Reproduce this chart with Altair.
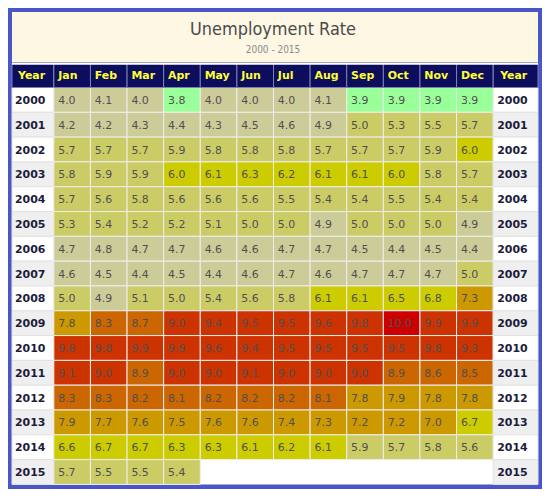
import altair as alt
import pandas as pd

months = ["Jan", "Feb", "Mar", "Apr", "May", "Jun", "Jul", "Aug", "Sep", "Oct", "Nov", "Dec"]
years = [str(y) for y in range(2000, 2016)]

r2000 = [4.0, 4.1, 4.0, 3.8, 4.0, 4.0, 4.0, 4.1, 3.9, 3.9, 3.9, 3.9]
r2001 = [4.2, 4.2, 4.3, 4.4, 4.3, 4.5, 4.6, 4.9, 5.0, 5.3, 5.5, 5.7]
r2002 = [5.7, 5.7, 5.7, 5.9, 5.8, 5.8, 5.8, 5.7, 5.7, 5.7, 5.9, 6.0]
r2003 = [5.8, 5.9, 5.9, 6.0, 6.1, 6.3, 6.2, 6.1, 6.1, 6.0, 5.8, 5.7]
r2004 = [5.7, 5.6, 5.8, 5.6, 5.6, 5.6, 5.5, 5.4, 5.4, 5.5, 5.4, 5.4]
r2005 = [5.3, 5.4, 5.2, 5.2, 5.1, 5.0, 5.0, 4.9, 5.0, 5.0, 5.0, 4.9]
r2006 = [4.7, 4.8, 4.7, 4.7, 4.6, 4.6, 4.7, 4.7, 4.5, 4.4, 4.5, 4.4]
r2007 = [4.6, 4.5, 4.4, 4.5, 4.4, 4.6, 4.7, 4.6, 4.7, 4.7, 4.7, 5.0]
r2008 = [5.0, 4.9, 5.1, 5.0, 5.4, 5.6, 5.8, 6.1, 6.1, 6.5, 6.8, 7.3]
r2009 = [7.8, 8.3, 8.7, 9.0, 9.4, 9.5, 9.5, 9.6, 9.8, 10.0, 9.9, 9.9]
r2010 = [9.8, 9.8, 9.9, 9.9, 9.6, 9.4, 9.5, 9.5, 9.5, 9.5, 9.8, 9.3]
r2011 = [9.1, 9.0, 8.9, 9.0, 9.0, 9.1, 9.0, 9.0, 9.0, 8.9, 8.6, 8.5]
r2012 = [8.3, 8.3, 8.2, 8.1, 8.2, 8.2, 8.2, 8.1, 7.8, 7.9, 7.8, 7.8]
r2013 = [7.9, 7.7, 7.6, 7.5, 7.6, 7.6, 7.4, 7.3, 7.2, 7.2, 7.0, 6.7]
r2014 = [6.6, 6.7, 6.7, 6.3, 6.3, 6.1, 6.2, 6.1, 5.9, 5.7, 5.8, 5.6]
r2015 = [5.7, 5.5, 5.5, 5.4]

rate_rows = [r2000, r2001, r2002, r2003, r2004, r2005, r2006, r2007,
             r2008, r2009, r2010, r2011, r2012, r2013, r2014, r2015]

thresholds = [4.0, 5.0, 6.0, 7.0, 8.0, 9.0, 10.0]
band_colors = ["#99FF99", "#CCCC99", "#CCCC66", "#CCCC00", "#CC9900",
               "#CC6600", "#CC3300", "#CC0000"]

title_text = "Unemployment Rate"
subtitle_text = "2000 - 2015"
header_label = "Year"

# ---- tables built from the arrays ----
cells = pd.DataFrame(
    [{"Row": y, "Month": months[i], "Rate": v}
     for y, vals in zip(years, rate_rows) for i, v in enumerate(vals)]
)
hdr = pd.DataFrame({"Row": ["hdr"] * len(months), "Month": months})
yr = pd.DataFrame({"Row": years, "Label": years,
                   "Shade": ["w" if int(y) % 2 == 0 else "g" for y in years]})
yr_hdr = pd.DataFrame({"Row": ["hdr"], "Label": [header_label]})

rows = ["hdr"] + years
ROW_H = 24.9
TAB_H = ROW_H * len(rows)
MONTH_W = 441
YL_W = 42
YR_W = 45
FULL_W = YL_W + MONTH_W + YR_W

NAVY = "#0D0D5E"
YELLOW = "#FFFF33"
FONT = "DejaVu Sans"
TFONT = "DejaVu Sans Condensed, Roboto, DejaVu Sans"

y_enc = alt.Y("Row:N", scale=alt.Scale(domain=rows, paddingInner=0, paddingOuter=0), axis=None)
x_enc = alt.X("Month:N", scale=alt.Scale(domain=months, paddingInner=0, paddingOuter=0), axis=None)

cell_rect = alt.Chart(cells).mark_rect(stroke="#EEEEEE", strokeWidth=1).encode(
    x=x_enc, y=y_enc,
    color=alt.Color("Rate:Q", scale=alt.Scale(type="threshold", domain=thresholds, range=band_colors), legend=None),
)
cell_text = alt.Chart(cells).mark_text(
    align="left", baseline="middle", dx=-14, dy=1, font=FONT, fontSize=11, color="#505050"
).encode(x=x_enc, y=y_enc, text=alt.Text("Rate:Q", format=".1f"))
hdr_rect = alt.Chart(hdr).mark_rect(color=NAVY, stroke="#7F7FB0", strokeWidth=1).encode(x=x_enc, y=y_enc)
hdr_text = alt.Chart(hdr).mark_text(
    align="left", baseline="middle", dx=-14, dy=1, font=FONT, fontSize=11, fontWeight="bold", color=YELLOW
).encode(x=x_enc, y=y_enc, text="Month:N")

month_panel = alt.layer(cell_rect, cell_text, hdr_rect, hdr_text).properties(
    width=MONTH_W, height=TAB_H, view=alt.ViewBackground(fill="#FFFFFF", stroke=None)
)


def year_panel(w, text_x):
    rect = alt.Chart(yr).mark_rect(stroke="#E2E2E2", strokeWidth=1).encode(
        y=y_enc,
        color=alt.Color("Shade:N", scale=alt.Scale(domain=["w", "g"], range=["#FFFFFF", "#EFEFEF"]), legend=None),
    )
    txt = alt.Chart(yr).mark_text(
        align="left", baseline="middle", dy=1, font=FONT, fontSize=11, fontWeight="bold", color="#1C1C3C"
    ).encode(y=y_enc, x=alt.value(text_x), text="Label:N")
    hrect = alt.Chart(yr_hdr).mark_rect(color=NAVY, stroke="#7F7FB0", strokeWidth=1).encode(y=y_enc)
    htxt = alt.Chart(yr_hdr).mark_text(
        align="left", baseline="middle", dy=1, font=FONT, fontSize=11, fontWeight="bold", color=YELLOW
    ).encode(y=y_enc, x=alt.value(text_x + 3), text="Label:N")
    return alt.layer(rect, txt, hrect, htxt).properties(
        width=w, height=TAB_H, view=alt.ViewBackground(fill="#FFFFFF", stroke=None)
    )


table = alt.hconcat(year_panel(YL_W, 3), month_panel, year_panel(YR_W, 4), spacing=0, bounds="flush")

tdf = pd.DataFrame({"t": [title_text], "s": [subtitle_text]})
title_main = alt.Chart(tdf).mark_text(
    align="center", baseline="alphabetic", font=TFONT, fontSize=18, color="#4A4A4A"
).encode(x=alt.value(262), y=alt.value(23), text="t:N")
title_sub = alt.Chart(tdf).mark_text(
    align="center", baseline="alphabetic", font=TFONT, fontSize=10, color="#8A8A8A"
).encode(x=alt.value(262), y=alt.value(41), text="s:N")
title_panel = alt.layer(title_main, title_sub).properties(
    width=FULL_W, height=51, view=alt.ViewBackground(fill="#FDF7E4", stroke=None)
)

spacer = alt.Chart(tdf).mark_rect(opacity=0).encode(
    x=alt.value(0), x2=alt.value(1), y=alt.value(0), y2=alt.value(1)
).properties(width=FULL_W, height=2, view=alt.ViewBackground(fill="#FFFFFF", stroke=None))

chart = alt.vconcat(title_panel, table, spacer, spacing=0, bounds="flush").properties(
    padding=3, background="#4A55C8"
).configure_view(stroke=None)

chart.save("out.html", embed_options={"renderer": "svg", "actions": False})
